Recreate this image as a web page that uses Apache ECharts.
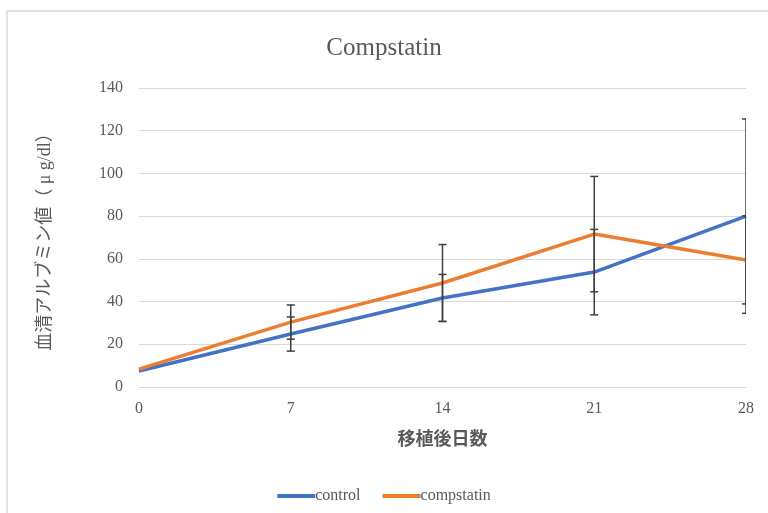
<!DOCTYPE html>
<html><head><meta charset="utf-8">
<script src="https://cdn.jsdelivr.net/npm/echarts@6/dist/echarts.min.js"></script>
<style>html,body{margin:0;padding:0;background:#fff}#c{width:768px;height:513px}</style>
</head><body><div id="c"></div>
<script>
const days = [0, 7, 14, 21, 28];
const controlValues = [7.5, 24.8, 41.7, 53.8, 80.0];
const controlErrors = [0, 8, 11, 20, 45.5];
const compstatinValues = [8.4, 30.4, 48.7, 71.6, 59.5];
const compstatinErrors = [0, 8, 18, 27, 20.6];
const yTicks = [0, 20, 40, 60, 80, 100, 120, 140];

const serif = "'Liberation Serif','Noto Sans CJK JP',serif";
const grey = '#595959';

function pairs(v){ return days.map((d,i)=>[d, v[i]]); }
function errData(v,e){ return days.map((d,i)=>[d, v[i]-e[i], v[i]+e[i]]).filter((r,i)=>e[i]>0); }

function errRender(params, api){
  const x = api.value(0);
  const lo = api.coord([x, api.value(1)]);
  const hi = api.coord([x, api.value(2)]);
  const w = 4;
  const st = {stroke:'#404040', lineWidth:1.5};
  return {type:'group', children:[
    {type:'line', shape:{x1:lo[0],y1:lo[1],x2:hi[0],y2:hi[1]}, style:st},
    {type:'line', shape:{x1:lo[0]-w,y1:lo[1],x2:lo[0]+w,y2:lo[1]}, style:st},
    {type:'line', shape:{x1:hi[0]-w,y1:hi[1],x2:hi[0]+w,y2:hi[1]}, style:st}
  ]};
}

const chart = echarts.init(document.getElementById('c'));
chart.setOption({
  animation:false,
  backgroundColor:'#fff',
  graphic:[{type:'rect', shape:{x:7,y:11,width:800,height:600}, style:{fill:'none', stroke:'#d9d9d9', lineWidth:1.5}, silent:true}],
  title:{text:'Compstatin', left:'center', top:31, textStyle:{fontFamily:serif, fontSize:25, fontWeight:'normal', color:grey}},
  grid:{left:139, right:22, top:88, bottom:126},
  legend:{top:483, left:'center', itemWidth:38, itemHeight:4, itemGap:22, icon:'rect',
    data:['control','compstatin'],
    textStyle:{fontFamily:serif, fontSize:16, color:grey, padding:[0,0,0,-5]}},
  xAxis:{type:'value', min:0, max:28, interval:7,
    name:'移植後日数', nameLocation:'middle', nameGap:44,
    nameTextStyle:{fontFamily:serif, fontSize:18, fontWeight:'bold', color:grey},
    axisLine:{show:false}, axisTick:{show:false}, splitLine:{show:false},
    axisLabel:{fontFamily:serif, fontSize:16, color:grey, margin:14}},
  yAxis:{type:'value', min:yTicks[0], max:yTicks[yTicks.length-1], interval:20,
    name:'血清アルブミン値（ μ g/dl）', nameLocation:'middle', nameGap:85,
    nameTextStyle:{fontFamily:serif, fontSize:18, color:grey},
    axisLine:{show:false}, axisTick:{show:false},
    splitLine:{lineStyle:{color:'#d9d9d9', width:1}},
    axisLabel:{fontFamily:serif, fontSize:16, color:grey, margin:16}},
  series:[
    {name:'control', type:'line', data:pairs(controlValues), symbol:'none',
     lineStyle:{color:'#4472C4', width:3.5}, itemStyle:{color:'#4472C4'}, z:3},
    {name:'compstatin', type:'line', data:pairs(compstatinValues), symbol:'none',
     lineStyle:{color:'#ED7D31', width:3.5}, itemStyle:{color:'#ED7D31'}, z:3},
    {name:'controlErr', type:'custom', renderItem:errRender, data:errData(controlValues,controlErrors), clip:true, z:4, encode:{x:0,y:[1,2]}},
    {name:'compstatinErr', type:'custom', renderItem:errRender, data:errData(compstatinValues,compstatinErrors), clip:true, z:4, encode:{x:0,y:[1,2]}}
  ]
});
</script></body></html>
